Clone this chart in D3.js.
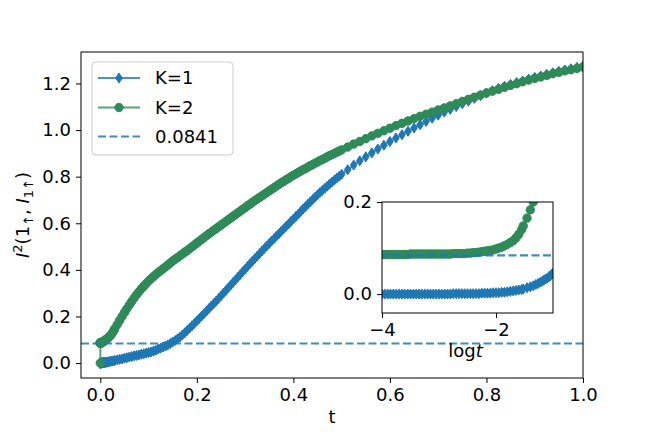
<!DOCTYPE html>
<html lang="en">
<head>
<meta charset="UTF-8">
<title>I^2 vs t</title>
<script src="https://d3js.org/d3.v7.min.js"></script>
<style>
  body { margin: 0; background: #fff; }
  svg { display: block; font-family: "DejaVu Sans", sans-serif; }
  .tick text { font-size: 18px; fill: #000; }
  .tick line { stroke: #000; stroke-width: 1; }
</style>
</head>
<body>
<svg width="648" height="432"></svg>
<script>
// sample times: t = 0, log-spaced 1e-4..0.028, then 0.03..0.5 and 0.5..1
const t = [0,
  0.0001, 0.000112, 0.000126, 0.000141, 0.000158, 0.000178, 0.0002, 0.000224, 0.000251, 0.000282,
  0.000316, 0.000355, 0.000398, 0.000447, 0.000501, 0.000562, 0.000631, 0.000708, 0.000794, 0.000891,
  0.001, 0.00112, 0.00126, 0.00141, 0.00158, 0.00178, 0.002, 0.00224, 0.00251, 0.00282,
  0.00316, 0.00355, 0.00398, 0.00447, 0.00501, 0.00562, 0.00631, 0.00708, 0.00794, 0.00891,
  0.01, 0.0112, 0.0126, 0.0141, 0.0158, 0.0178, 0.02, 0.0224, 0.0251, 0.0282,
  0.030, 0.035, 0.040, 0.045, 0.050, 0.055, 0.060, 0.065, 0.070, 0.075,
  0.080, 0.085, 0.090, 0.095,
  0.100, 0.105, 0.110, 0.115, 0.120, 0.125, 0.130, 0.135, 0.140, 0.145,
  0.150, 0.155, 0.160, 0.165, 0.170, 0.175, 0.180, 0.185, 0.190, 0.195,
  0.200, 0.205, 0.210, 0.215, 0.220, 0.225, 0.230, 0.235, 0.240, 0.245,
  0.250, 0.255, 0.260, 0.265, 0.270, 0.275, 0.280, 0.285, 0.290, 0.295,
  0.300, 0.305, 0.310, 0.315, 0.320, 0.325, 0.330, 0.335, 0.340, 0.345,
  0.350, 0.355, 0.360, 0.365, 0.370, 0.375, 0.380, 0.385, 0.390, 0.395,
  0.400, 0.405, 0.410, 0.415, 0.420, 0.425, 0.430, 0.435, 0.440, 0.445,
  0.450, 0.455, 0.460, 0.465, 0.470, 0.475, 0.480, 0.485, 0.490, 0.495,
  0.500,
  0.5125, 0.525, 0.5375, 0.55, 0.5625, 0.575, 0.5875, 0.60, 0.6125, 0.625,
  0.6375, 0.65, 0.6625, 0.675, 0.6875, 0.70, 0.7125, 0.725, 0.7375, 0.75,
  0.7625, 0.775, 0.7875, 0.80, 0.8125, 0.825, 0.8375, 0.85, 0.8625, 0.875,
  0.8875, 0.90, 0.9125, 0.925, 0.9375, 0.95, 0.9625, 0.975, 0.9875, 1.0];

// K=1
const k1 = [0,
  0, 0, 0, 0, 0, 0, 0, 0, 0, 0,
  0, 0, 0, 0, 0, 0, 0, 0, 0, 0,
  0, 0, 0, 0, 0, 0.001, 0.001, 0.001, 0.001, 0.001,
  0.001, 0.001, 0.001, 0.001, 0.001, 0.002, 0.002, 0.002, 0.002, 0.003,
  0.003, 0.003, 0.004, 0.004, 0.005, 0.006, 0.007, 0.008, 0.009, 0.010,
  0.011, 0.014, 0.016, 0.018, 0.021, 0.023, 0.026, 0.028, 0.031, 0.033,
  0.035, 0.038, 0.040, 0.043,
  0.045, 0.048, 0.051, 0.055, 0.060, 0.064, 0.069, 0.073, 0.078, 0.084,
  0.090, 0.097, 0.104, 0.112, 0.121, 0.130, 0.140, 0.150, 0.160, 0.170,
  0.181, 0.191, 0.202, 0.212, 0.223, 0.234, 0.245, 0.255, 0.266, 0.277,
  0.288, 0.300, 0.311, 0.323, 0.334, 0.346, 0.357, 0.369, 0.380, 0.392,
  0.403, 0.415, 0.426, 0.437, 0.448, 0.459, 0.470, 0.481, 0.492, 0.503,
  0.513, 0.524, 0.534, 0.545, 0.555, 0.566, 0.576, 0.587, 0.597, 0.608,
  0.618, 0.629, 0.639, 0.650, 0.661, 0.671, 0.682, 0.692, 0.702, 0.712,
  0.722, 0.732, 0.741, 0.750, 0.759, 0.768, 0.777, 0.786, 0.794, 0.802,
  0.810,
  0.830, 0.850, 0.868, 0.885, 0.902, 0.919, 0.935, 0.951, 0.966, 0.980,
  0.995, 1.009, 1.023, 1.037, 1.051, 1.064, 1.077, 1.089, 1.101, 1.113,
  1.124, 1.136, 1.148, 1.159, 1.169, 1.179, 1.188, 1.196, 1.204, 1.211,
  1.219, 1.226, 1.232, 1.239, 1.246, 1.252, 1.258, 1.263, 1.269, 1.275];

// K=2
const k2 = [0,
  0.086, 0.086, 0.086, 0.086, 0.086, 0.086, 0.086, 0.086, 0.086, 0.086,
  0.087, 0.087, 0.087, 0.087, 0.087, 0.087, 0.087, 0.087, 0.087, 0.087,
  0.087, 0.087, 0.087, 0.087, 0.087, 0.088, 0.088, 0.088, 0.088, 0.088,
  0.089, 0.089, 0.090, 0.090, 0.091, 0.092, 0.093, 0.094, 0.095, 0.096,
  0.098, 0.100, 0.102, 0.105, 0.108, 0.112, 0.116, 0.122, 0.130, 0.140,
  0.148, 0.165, 0.183, 0.200, 0.217, 0.233, 0.249, 0.264, 0.279, 0.293,
  0.306, 0.319, 0.330, 0.341,
  0.352, 0.362, 0.371, 0.380, 0.389, 0.397, 0.405, 0.413, 0.421, 0.430,
  0.438, 0.446, 0.453, 0.461, 0.468, 0.476, 0.483, 0.491, 0.499, 0.507,
  0.515, 0.523, 0.531, 0.539, 0.547, 0.555, 0.562, 0.570, 0.577, 0.585,
  0.592, 0.600, 0.607, 0.615, 0.622, 0.630, 0.637, 0.645, 0.652, 0.660,
  0.667, 0.675, 0.682, 0.690, 0.697, 0.704, 0.711, 0.718, 0.725, 0.732,
  0.739, 0.746, 0.753, 0.760, 0.767, 0.774, 0.780, 0.787, 0.793, 0.800,
  0.806, 0.812, 0.818, 0.824, 0.830, 0.835, 0.841, 0.847, 0.852, 0.858,
  0.863, 0.869, 0.874, 0.879, 0.885, 0.890, 0.895, 0.900, 0.905, 0.910,
  0.915,
  0.927, 0.940, 0.951, 0.963, 0.975, 0.986, 0.997, 1.008, 1.019, 1.029,
  1.039, 1.049, 1.059, 1.068, 1.077, 1.086, 1.095, 1.104, 1.113, 1.123,
  1.132, 1.141, 1.150, 1.159, 1.167, 1.175, 1.184, 1.192, 1.199, 1.207,
  1.215, 1.222, 1.228, 1.235, 1.242, 1.248, 1.254, 1.259, 1.265, 1.270];

const refLevel = 0.0841;
const xTicks = [0, 0.2, 0.4, 0.6, 0.8, 1.0];
const yTicks = [0, 0.2, 0.4, 0.6, 0.8, 1.0, 1.2];
const insetXTicks = [-4, -2];
const insetYTicks = [0, 0.2];
const legendLabels = ['K=1', 'K=2', String(refLevel)];

const C1 = '#1f77b4', C2 = '#2e8b57';
const svg = d3.select('svg');

const series = [
  { name: 'K=1', vals: k1, color: C1, marker: 'diamond' },
  { name: 'K=2', vals: k2, color: C2, marker: 'circle' }
];

// marker shapes (thin diamond for K=1, circle for K=2)
const diamond = 'M0,-5L3.3,0L0,5L-3.3,0Z';
function drawMarkers(g, pts, s) {
  if (s.marker === 'diamond') {
    g.selectAll(null).data(pts).enter().append('path')
      .attr('d', diamond)
      .attr('transform', d => `translate(${d[0]},${d[1]})`)
      .attr('fill', s.color).attr('stroke', s.color).attr('stroke-width', 1);
  } else {
    g.selectAll(null).data(pts).enter().append('circle')
      .attr('cx', d => d[0]).attr('cy', d => d[1]).attr('r', 4.2)
      .attr('fill', s.color).attr('stroke', s.color).attr('stroke-width', 1);
  }
}

// ---- main axes
const pL = 81, pR = 583, pT = 52, pB = 378;
const x = d3.scaleLinear().domain([-0.04, 1.0]).range([pL, pR]);
const y = d3.scaleLinear().domain([-0.064, 1.335]).range([pB, pT]);

svg.append('clipPath').attr('id', 'clipMain').append('rect')
  .attr('x', pL).attr('y', pT).attr('width', pR - pL).attr('height', pB - pT);

const plot = svg.append('g').attr('clip-path', 'url(#clipMain)');
const line = d3.line();
series.forEach(s => {
  const pts = t.map((tv, i) => [x(tv), y(s.vals[i])]);
  const g = plot.append('g');
  g.append('path').attr('d', line(pts)).attr('fill', 'none')
    .attr('stroke', s.color).attr('stroke-width', 2).attr('opacity', 0.8);
  drawMarkers(g, pts, s);
});
plot.append('line')
  .attr('x1', pL).attr('x2', pR).attr('y1', y(refLevel)).attr('y2', y(refLevel))
  .attr('stroke', C1).attr('stroke-width', 2.2).attr('stroke-dasharray', '8,3.5').attr('opacity', 0.85);

svg.append('g').attr('transform', `translate(0,${pB})`)
  .call(d3.axisBottom(x).tickValues(xTicks).tickFormat(d3.format('.1f')).tickSize(5).tickPadding(5))
  .call(g => g.select('.domain').remove());
svg.append('g').attr('transform', `translate(${pL},0)`)
  .call(d3.axisLeft(y).tickValues(yTicks).tickFormat(d3.format('.1f')).tickSize(5).tickPadding(5))
  .call(g => g.select('.domain').remove());

svg.append('rect').attr('x', pL).attr('y', pT).attr('width', pR - pL).attr('height', pB - pT)
  .attr('fill', 'none').attr('stroke', '#000').attr('stroke-width', 1);

svg.append('text').attr('x', (pL + pR) / 2).attr('y', 423).attr('text-anchor', 'middle')
  .attr('font-size', 18).text('t');

const yl = svg.append('text').attr('transform', 'translate(29,215) rotate(-90)')
  .attr('text-anchor', 'middle').attr('font-size', 18);
yl.append('tspan').attr('font-style', 'italic').text('I');
yl.append('tspan').attr('font-size', 13).attr('dy', -7).text('2');
yl.append('tspan').attr('dy', 7).text('(1');
yl.append('tspan').attr('font-size', 13).attr('dy', 4).text('↑');
yl.append('tspan').attr('dy', -4).text(', ');
yl.append('tspan').attr('font-style', 'italic').text('I');
yl.append('tspan').attr('font-size', 13).attr('dy', 4).text('1↑');
yl.append('tspan').attr('dy', -4).text(')');

// ---- legend
const lg = svg.append('g');
lg.append('rect').attr('x', 92).attr('y', 62).attr('width', 141).attr('height', 93).attr('rx', 4)
  .attr('fill', '#fff').attr('fill-opacity', 0.8).attr('stroke', '#ccc').attr('stroke-width', 1);
const rowY = [78, 107.5, 136.5];
series.forEach((s, i) => {
  lg.append('line').attr('x1', 98).attr('x2', 140).attr('y1', rowY[i]).attr('y2', rowY[i])
    .attr('stroke', s.color).attr('stroke-width', 2).attr('opacity', 0.8);
  drawMarkers(lg.append('g'), [[119, rowY[i]]], s);
});
lg.append('line').attr('x1', 98).attr('x2', 140).attr('y1', rowY[2]).attr('y2', rowY[2])
  .attr('stroke', C1).attr('stroke-width', 2.2).attr('stroke-dasharray', '8,3.5').attr('opacity', 0.85);
legendLabels.forEach((lab, i) => {
  lg.append('text').attr('x', 155).attr('y', rowY[i]).attr('dy', '0.35em')
    .attr('font-size', 18).text(lab);
});

// ---- inset (log10 t)
const iL = 382, iR = 553, iT = 202, iB = 313;
const xi = d3.scaleLinear().domain([-4, -1]).range([iL, iR]);
const yi = d3.scaleLinear().domain([-0.041, 0.2]).range([iB, iT]);

svg.append('rect').attr('x', iL).attr('y', iT).attr('width', iR - iL).attr('height', iB - iT).attr('fill', '#fff');
svg.append('clipPath').attr('id', 'clipInset').append('rect')
  .attr('x', iL).attr('y', iT).attr('width', iR - iL).attr('height', iB - iT);
const inset = svg.append('g').attr('clip-path', 'url(#clipInset)');
series.forEach(s => {
  const pts = t.map((tv, i) => [tv, s.vals[i]]).filter(d => d[0] > 0)
    .map(d => [xi(Math.log10(d[0])), yi(d[1])]);
  const g = inset.append('g');
  g.append('path').attr('d', line(pts)).attr('fill', 'none')
    .attr('stroke', s.color).attr('stroke-width', 2).attr('opacity', 0.8);
  drawMarkers(g, pts, s);
});
inset.append('line')
  .attr('x1', iL).attr('x2', iR).attr('y1', yi(refLevel)).attr('y2', yi(refLevel))
  .attr('stroke', C1).attr('stroke-width', 2.2).attr('stroke-dasharray', '8,3.5').attr('opacity', 0.85);

svg.append('g').attr('transform', `translate(0,${iB})`)
  .call(d3.axisBottom(xi).tickValues(insetXTicks).tickFormat(d3.format('d')).tickSize(5).tickPadding(5))
  .call(g => g.select('.domain').remove());
svg.append('g').attr('transform', `translate(${iL},0)`)
  .call(d3.axisLeft(yi).tickValues(insetYTicks).tickFormat(d3.format('.1f')).tickSize(5).tickPadding(5))
  .call(g => g.select('.domain').remove());
svg.selectAll('.tick text').attr('font-family', 'DejaVu Sans').attr('font-size', 18);

svg.append('rect').attr('x', iL).attr('y', iT).attr('width', iR - iL).attr('height', iB - iT)
  .attr('fill', 'none').attr('stroke', '#000').attr('stroke-width', 1);

const lt = svg.append('text').attr('x', (iL + iR) / 2 - 2).attr('y', 357).attr('text-anchor', 'middle')
  .attr('font-size', 18);
lt.append('tspan').text('log');
lt.append('tspan').attr('font-style', 'italic').text('t');
</script>
</body>
</html>
